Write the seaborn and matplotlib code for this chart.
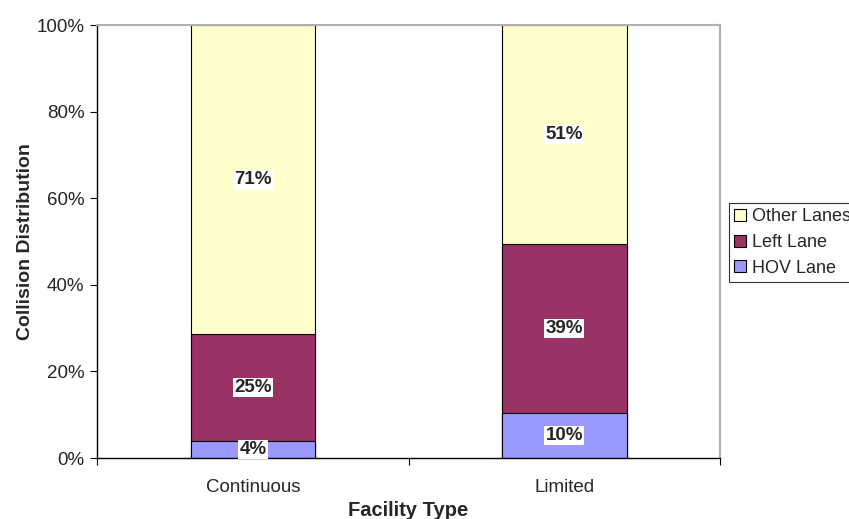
import pandas as pd
import matplotlib.pyplot as plt
import seaborn as sns
from matplotlib.patches import Patch
from matplotlib.ticker import FixedLocator, PercentFormatter

facility = ['Continuous', 'Limited']
hov_lane = [3.9, 10.4]
left_lane = [24.7, 39.0]
other_lanes = [71.4, 50.6]
shown_labels = {'HOV Lane': ['4%', '10%'], 'Left Lane': ['25%', '39%'], 'Other Lanes': ['71%', '51%']}

colors = {'Other Lanes': '#FFFFCC', 'Left Lane': '#993366', 'HOV Lane': '#9999FF'}

sns.set_style('white')
plt.rcParams['font.family'] = ['Liberation Sans', 'DejaVu Sans']

df = pd.DataFrame({'Facility': facility, 'HOV Lane': hov_lane,
                   'Left Lane': left_lane, 'Other Lanes': other_lanes})
# cumulative tops, drawn back to front so the bars stack
df['top_left'] = df['HOV Lane'] + df['Left Lane']
df['top_other'] = df['top_left'] + df['Other Lanes']

fig = plt.figure(figsize=(8.49, 5.19), dpi=100)
ax = fig.add_axes([0.1143, 0.1175, 0.734, 0.834])

sns.barplot(data=df, x='Facility', y='top_other', color=colors['Other Lanes'],
            width=0.4, edgecolor='black', linewidth=0.8, ax=ax)
sns.barplot(data=df, x='Facility', y='top_left', color=colors['Left Lane'],
            width=0.4, edgecolor='black', linewidth=0.8, ax=ax)
sns.barplot(data=df, x='Facility', y='HOV Lane', color=colors['HOV Lane'],
            width=0.4, edgecolor='black', linewidth=0.8, ax=ax)
# seaborn desaturates the color a bit; put the exact fills back
for patch, name in zip(ax.patches, ['Other Lanes'] * 2 + ['Left Lane'] * 2 + ['HOV Lane'] * 2):
    patch.set_facecolor(colors[name])

# segment labels
for i in range(len(facility)):
    mids = [df['HOV Lane'][i] / 2,
            df['HOV Lane'][i] + df['Left Lane'][i] / 2,
            df['top_left'][i] + df['Other Lanes'][i] / 2]
    for name, m in zip(['HOV Lane', 'Left Lane', 'Other Lanes'], mids):
        ax.text(i, m, shown_labels[name][i], ha='center', va='center',
                fontsize=13.5, fontweight='bold',
                bbox=dict(facecolor='white', edgecolor='none', pad=1))

ax.set_xlim(-0.5, 1.5)
ax.set_ylim(0, 100)
ax.yaxis.set_major_locator(FixedLocator([0, 20, 40, 60, 80, 100]))
ax.yaxis.set_major_formatter(PercentFormatter(decimals=0))
ax.xaxis.set_minor_locator(FixedLocator([-0.5, 0.5, 1.5]))
ax.tick_params(axis='x', which='major', length=0, labelsize=13.5, pad=15)
ax.tick_params(axis='x', which='minor', length=5, width=0.8, color='black', direction='out', bottom=True)
ax.tick_params(axis='y', length=5, width=0.8, color='black', direction='out', left=True, labelsize=13.5, pad=4)

ax.set_xlabel('Facility Type', fontsize=14.5, fontweight='bold', labelpad=4)
ax.set_ylabel('Collision Distribution', fontsize=14, fontweight='bold', labelpad=2)

for side in ['left', 'bottom']:
    ax.spines[side].set_color('black')
    ax.spines[side].set_linewidth(1)
for side in ['top', 'right']:
    ax.spines[side].set_color('#b0b0b0')
    ax.spines[side].set_linewidth(1.5)

# legend sits against the right edge; the reference crops "Other Lanes" there too
handles = [Patch(facecolor=colors[n], edgecolor='black', linewidth=0.8, label=n)
           for n in ['Other Lanes', 'Left Lane', 'HOV Lane']]
leg = fig.legend(handles=handles, loc='upper left', bbox_to_anchor=(729 / 849, 1 - 203 / 519),
                 frameon=True, fancybox=False, edgecolor='black', fontsize=13,
                 handlelength=0.65, handleheight=0.65, handletextpad=0.3,
                 borderpad=0.3, labelspacing=0.48, borderaxespad=0)
leg.get_frame().set_linewidth(0.8)

fig.savefig('out.png', dpi=100)
